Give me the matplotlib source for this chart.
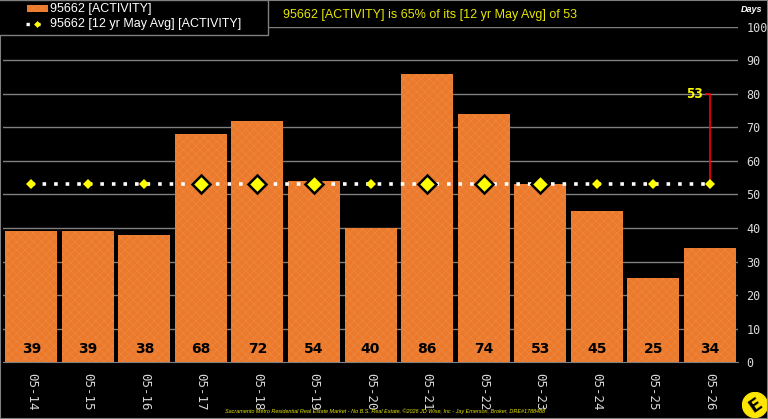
import matplotlib.pyplot as plt
import numpy as np
from matplotlib.patches import Rectangle, Circle
from matplotlib.lines import Line2D

years = ["05-14", "05-15", "05-16", "05-17", "05-18", "05-19", "05-20",
         "05-21", "05-22", "05-23", "05-24", "05-25", "05-26"]
activity = [39, 39, 38, 68, 72, 54, 40, 86, 74, 53, 45, 25, 34]
avg_12yr = 53
pct_of_avg = 65
y_ticks = list(range(0, 101, 10))

orange = "#EC7A2C"
hatch_col = "#F0904F"
yellow = "#E6E600"
grid_gray = "#7F7F7F"

W, H = 768, 419

plt.rcParams["hatch.color"] = hatch_col
plt.rcParams["hatch.linewidth"] = 0.3

fig = plt.figure(figsize=(W / 100, H / 100), dpi=100, facecolor="black")
ax = fig.add_axes([0.004, 0.136, 0.957, 0.7996], facecolor="black")

x = np.arange(len(years))
ax.bar(x, activity, width=0.92, color=orange, hatch="xxxx",
       edgecolor=hatch_col, linewidth=0, zorder=2)

for t in y_ticks[1:]:
    ax.axhline(t, color=grid_gray, linewidth=1, zorder=1)

for xi, v in zip(x, activity):
    ax.text(xi, 3.8, str(v), ha="center", va="center", fontsize=10,
            fontweight="bold", color="black", family="DejaVu Sans", zorder=5)

# average line
avg = [avg_12yr] * len(years)
ax.plot(x, avg, color="white", linestyle=(0, (1, 2.2)), linewidth=2.6,
        zorder=3)
for xi, v in zip(x, activity):
    if v >= avg_12yr:
        ax.plot(xi, avg_12yr, marker="D", markersize=9, color="#FFFF00",
                markeredgecolor="black", markeredgewidth=1.8, zorder=4)
    else:
        ax.plot(xi, avg_12yr, marker="D", markersize=5.5, color="#FFFF00",
                markeredgewidth=0, zorder=4)

# red callout from last point
last = len(years) - 1
ax.plot([last - 0.06, last, last], [80, 80, avg_12yr], color="red",
        linewidth=1.2, zorder=3)
ax.text(last - 0.12, 80, str(avg_12yr), ha="right", va="center",
        fontsize=10, fontweight="bold", color="#FFFF00",
        family="DejaVu Sans Mono", zorder=5)

ax.set_xlim(-0.5, len(years) - 0.5)
ax.set_ylim(0, 100)
ax.set_yticks(y_ticks)
ax.yaxis.tick_right()
ax.tick_params(axis="y", length=0, pad=6, labelsize=8.5, labelcolor="#D9D9D9")
for lab in ax.get_yticklabels():
    lab.set_family("DejaVu Sans Mono")
ax.set_xticks(x)
ax.set_xticklabels(years, rotation=270, family="DejaVu Sans Mono",
                   fontsize=9, color="#D9D9D9")
ax.tick_params(axis="x", length=0, pad=8)
for s in ["top", "right", "left"]:
    ax.spines[s].set_visible(False)
ax.spines["bottom"].set_color(grid_gray)


def fx(px):
    return px / W


def fy(py):
    return 1 - py / H


# legend, drawn by hand
fig.patches.append(Rectangle((fx(-2), fy(35)), fx(270), 35 / H,
                             transform=fig.transFigure, facecolor="black",
                             edgecolor=grid_gray, linewidth=1, zorder=5))
fig.patches.append(Rectangle((fx(27), fy(12.5)), fx(21), 7 / H,
                             transform=fig.transFigure, facecolor=orange,
                             hatch="xxxx", edgecolor=hatch_col,
                             linewidth=0, zorder=6))
fig.lines.append(Line2D([fx(26), fx(47)], [fy(24), fy(24)],
                        transform=fig.transFigure, color="white",
                        linestyle=(0, (1, 2.2)), linewidth=2.4, zorder=6))
fig.lines.append(Line2D([fx(37)], [fy(24)], transform=fig.transFigure,
                        marker="D", markersize=3.5, color="#FFFF00",
                        markeredgewidth=0, zorder=7))
fig.text(fx(50), fy(9), "95662 [ACTIVITY]", ha="left", va="center",
         color="white", fontsize=9, family="Liberation Sans", zorder=7)
fig.text(fx(50), fy(24), "95662 [12 yr May Avg] [ACTIVITY]", ha="left",
         va="center", color="white", fontsize=9, family="Liberation Sans",
         zorder=7)

fig.text(fx(283), fy(15),
         f"95662 [ACTIVITY] is {pct_of_avg}% of its [12 yr May Avg] of {avg_12yr}",
         ha="left", va="center", color=yellow, fontsize=9,
         family="Liberation Sans")
fig.text(fx(752), fy(10), "Days", ha="center", va="center",
         color="white", fontsize=6.5, fontweight="bold", style="italic",
         family="Liberation Sans")

fig.text(fx(385), fy(411),
         "Sacramento Metro Residential Real Estate Market - No B.S. Real Estate, "
         "\u00a92026 JD Wise, Inc - Jay Emerson, Broker, DRE#1788488",
         ha="center", va="center", color=yellow, fontsize=4.0, style="italic",
         family="Liberation Sans")

# logo
logo_ax = fig.add_axes([fx(742), 0, 26 / W, 28 / H])
logo_ax.set_xlim(0, 1)
logo_ax.set_ylim(0, 1)
logo_ax.set_aspect("equal")
logo_ax.axis("off")
logo_ax.add_patch(Circle((0.5, 0.5), 0.48, color="#FFE600"))
logo_ax.text(0.52, 0.5, "E", ha="center", va="center", fontsize=13,
             fontweight="bold", color="black", rotation=35,
             family="DejaVu Sans")

fig.patches.append(Rectangle((0, 0), 1, 1, transform=fig.transFigure,
                             fill=False, edgecolor=grid_gray, linewidth=1.5))

fig.savefig("out.png", dpi=100, facecolor="black")
